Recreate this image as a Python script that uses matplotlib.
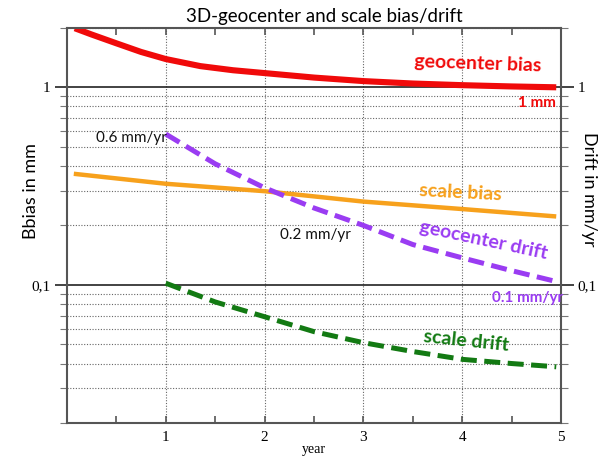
import numpy as np
import matplotlib
matplotlib.use('Agg')
import matplotlib.pyplot as plt
from matplotlib.ticker import LogLocator, NullFormatter, FixedLocator

# values
yr_bias = [0.08, 0.25, 0.5, 0.75, 1, 1.35, 1.68, 2, 2.5, 3, 3.5, 4, 4.5, 4.95]
geoc_bias = [1.99, 1.85, 1.67, 1.51, 1.39, 1.28, 1.22, 1.18, 1.12, 1.075, 1.045, 1.025, 1.01, 1.0]

yr_sbias = [0.07, 1, 2, 3, 4, 4.95]
scale_bias = [0.365, 0.325, 0.298, 0.264, 0.242, 0.222]

yr_drift = [1, 1.5, 2, 2.5, 3, 3.5, 4, 4.5, 4.95]
geoc_drift = [0.58, 0.41, 0.31, 0.245, 0.2, 0.16, 0.137, 0.118, 0.104]
scale_drift = [0.102, 0.082, 0.069, 0.058, 0.051, 0.046, 0.042, 0.040, 0.0385]

xticks = [1, 2, 3, 4, 5]
yticks = [0.1, 1]
ytick_lab = ['0,1', '1']

sans = ['Lato', 'DejaVu Sans']
serif = ['Liberation Serif', 'DejaVu Serif']

red = '#f00a0a'
orange = '#f7a11c'
purple = '#9a3cf2'
green = '#137a13'

fig = plt.figure(figsize=(6.08, 4.59), dpi=100)
ax = fig.add_axes([0.110, 0.0784, 0.813, 0.861])

ax.plot(yr_bias, geoc_bias, color=red, lw=4.4, solid_capstyle='butt', solid_joinstyle='round')
ax.plot(yr_sbias, scale_bias, color=orange, lw=3.2, solid_capstyle='butt')
ax.plot(yr_drift, geoc_drift, color=purple, lw=3.6, dashes=(3.2, 1.5))
ax.plot(yr_drift, scale_drift, color=green, lw=3.6, dashes=(3.2, 1.5))

ax.set_yscale('log')
ax.set_xlim(0, 5)
ax.set_ylim(0.02, 2)

ax.set_xticks(xticks)
ax.set_xticklabels([str(t) for t in xticks], family=serif, fontsize=11)
ax.xaxis.set_minor_locator(FixedLocator(np.arange(0.5, 5, 1.0)))
ax.tick_params(axis='x', which='both', direction='in', top=True, bottom=True,
               length=5, width=1.2, color='#555555', pad=6)

ax.set_yticks(yticks)
ax.set_yticklabels(ytick_lab, family=serif, fontsize=11)
ax.yaxis.set_minor_locator(LogLocator(base=10, subs=np.arange(2, 10)))
ax.yaxis.set_minor_formatter(NullFormatter())
ax.tick_params(axis='y', which='major', direction='out', left=True, right=True,
               labelright=True, length=9, width=1.2, color='#222222', pad=3)
ax.tick_params(axis='y', which='minor', direction='out', left=True, right=True,
               length=5, width=0.8, color='#777777')

ax.grid(which='major', axis='y', color='#222222', ls='-', lw=1.2)
ax.grid(which='minor', axis='y', color='#666666', ls=(0, (1, 1.5)), lw=0.8)
ax.grid(which='major', axis='x', color='#666666', ls=(0, (1, 1.5)), lw=0.8)
ax.set_axisbelow(True)

for s in ax.spines.values():
    s.set_color('#555555')
    s.set_linewidth(1.5)

ax.set_title('3D-geocenter and scale bias/drift', family=sans, fontsize=13.5,
             pad=4, x=0.52)
ax.set_xlabel('year', family=serif, fontsize=10, labelpad=-1)
fig.text(0.051, 0.584, 'Bbias in mm', family=sans, fontsize=13,
         rotation=90, ha='center', va='center')
fig.text(0.969, 0.588, 'Drift in mm/yr', family=sans, fontsize=13,
         rotation=-90, ha='center', va='center')

ax.text(4.16, 1.31, 'geocenter bias', color=red, family=sans, fontsize=14,
        fontweight='bold', ha='center', va='center', rotation=-2)
ax.text(4.75, 0.83, '1 mm', color=red, family=sans, fontsize=11,
        fontweight='bold', ha='center', va='center')
ax.text(3.98, 0.293, 'scale bias', color=orange, family=sans, fontsize=14,
        fontweight='bold', ha='center', va='center', rotation=-3)
ax.text(4.21, 0.169, 'geocenter drift', color=purple, family=sans, fontsize=14,
        fontweight='bold', ha='center', va='center', rotation=-12)
ax.text(4.66, 0.086, '0.1 mm/yr', color=purple, family=sans, fontsize=11,
        fontweight='bold', ha='center', va='center')
ax.text(4.04, 0.052, 'scale drift', color=green, family=sans, fontsize=14,
        fontweight='bold', ha='center', va='center', rotation=-6)
ax.text(0.65, 0.557, '0.6 mm/yr', color='#111111', family=sans, fontsize=11,
        ha='center', va='center')
ax.text(2.51, 0.179, '0.2 mm/yr', color='#111111', family=sans, fontsize=11,
        ha='center', va='center')

fig.savefig('out.png', dpi=100)
